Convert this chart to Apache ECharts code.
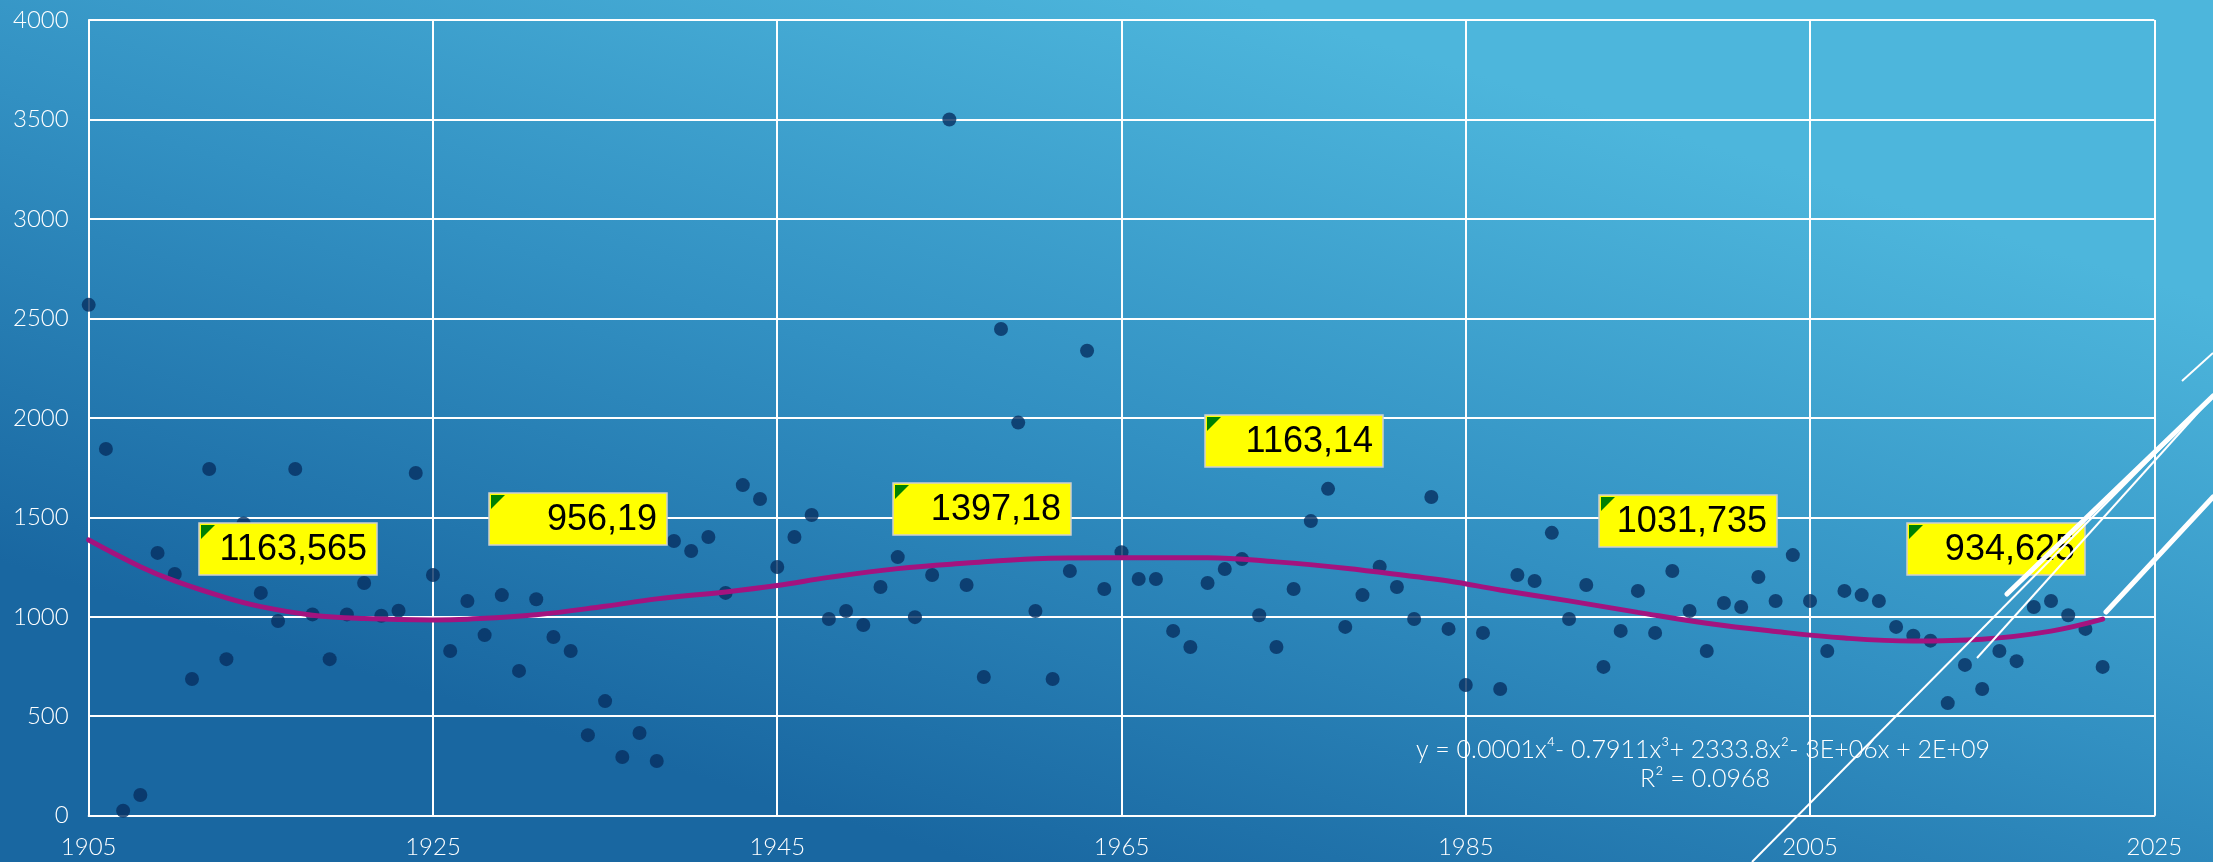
<!DOCTYPE html>
<html><head><meta charset="utf-8">
<script src="https://cdn.jsdelivr.net/npm/echarts@6/dist/echarts.min.js"></script>
<style>html,body{margin:0;padding:0;overflow:hidden}#c{width:2213px;height:862px}</style>
</head><body><div id="c"></div>
<script>
const BASE_YEAR = 1905;
const years = [1905,1906,1907,1908,1909,1910,1911,1912,1913,1914,1915,1916,1917,1918,1919,1920,1921,1922,1923,1924,
1925,1926,1927,1928,1929,1930,1931,1932,1933,1934,1935,1936,1937,1938,1939,1940,1941,1942,1943,1944,
1945,1946,1947,1948,1949,1950,1951,1952,1953,1954,1955,1956,1957,1958,1959,1960,1961,1962,1963,1964,
1965,1966,1967,1968,1969,1970,1971,1972,1973,1974,1975,1976,1977,1978,1979,1980,1981,1982,1983,1984,
1985,1986,1987,1988,1989,1990,1991,1992,1993,1994,1995,1996,1997,1998,1999,2000,2001,2002,2003,2004,
2005,2006,2007,2008,2009,2010,2011,2012,2013,2014,2015,2016,2017,2018,2019,2020,2021,2022];
const values = [2568,1844,25,104,1321,1215,687,1743,787,1469,1120,979,1743,1012,787,1012,1170,1005,1030,1723,
1210,828,1079,908,1109,728,1088,898,828,405,576,295,416,275,1381,1331,1401,1120,1662,1592,
1250,1401,1512,989,1029,959,1150,1300,998,1210,3500,1160,697,2447,1976,1029,687,1230,2337,1140,
1324,1190,1190,929,848,1170,1240,1290,1008,848,1140,1481,1643,949,1109,1252,1150,989,1602,939,
657,919,637,1210,1180,1422,989,1160,748,929,1130,919,1230,1029,828,1069,1049,1200,1079,1310,
1079,828,1130,1109,1079,949,905,880,566,758,637,828,777,1049,1079,1008,939,748];
// trend line (polynomial, order 4)
const trendYears = [1905,1908,1910,1913,1915,1918,1921,1925,1927,1931,1935,1938,1942,1945,1948,1952,1956,1960,1964,1970,1974,1978,1982,1984,1987,1991,1995,1999,2003,2007,2011,2015,2019,2022];
const trendValues = [1386,1252,1180,1095,1051,1008,991,984,988,1010,1053,1090,1125,1157,1198,1242,1270,1292,1297,1297,1276,1244,1202,1180,1135,1080,1022,967,926,893,878,887,928,988];
// period-average annotations
const noteTexts = ['1163,565','956,19','1397,18','1163,14','1031,735','934,625'];
const noteYears = [1916.6,1933.4,1956.9,1975.0,1997.9,2015.8];
const noteValues = [1340,1491,1542,1884,1480,1339];
const xTicks = [1905,1925,1945,1965,1985,2005,2025];
const equationText = 'y = 0.0001x\u2074- 0.7911x\u00b3+ 2333.8x\u00b2- 3E+06x + 2E+09';
const r2Text = 'R\u00b2 = 0.0968';

const chart = echarts.init(document.getElementById('c'), null, {renderer:'canvas'});
const FONT = 'Lato';
const option = {
  backgroundColor: {type:'linear', x:0.56, y:0, x2:0.44, y2:1,
    colorStops:[{offset:0,color:'#4db6dc'},{offset:0.5,color:'#3290c2'},{offset:1,color:'#1967a1'}]},
  animation:false,
  grid:{left:88.7, right:58.7, top:20, bottom:46.3, containLabel:false},
  xAxis:{type:'value', min:0, max:xTicks[xTicks.length-1]-BASE_YEAR, interval:20,
    axisLine:{show:true, lineStyle:{color:'#fff', width:2}},
    axisTick:{show:false},
    splitLine:{show:true, lineStyle:{color:'#fff', width:2}},
    axisLabel:{color:'#fff', fontSize:24, fontFamily:FONT, fontWeight:300, margin:20, formatter:v=>String(v+BASE_YEAR)}},
  yAxis:{type:'value', min:0, max:4000, interval:500,
    axisLine:{show:true, lineStyle:{color:'#fff', width:2}},
    axisTick:{show:false},
    splitLine:{show:true, lineStyle:{color:'#fff', width:2}},
    axisLabel:{color:'#fff', fontSize:24, fontFamily:FONT, fontWeight:300, margin:20, formatter:v=>String(v)}},
  series:[
    {type:'scatter', z:2, symbol:'circle', symbolSize:14,
     itemStyle:{color:'#062f62'},
     data: years.map((y,i)=>[y-BASE_YEAR, values[i]])},
    {type:'line', z:3, smooth:0.4, showSymbol:false, symbol:'none',
     lineStyle:{color:'#a3137f', width:5, cap:'round'},
     data: trendYears.map((y,i)=>[y-BASE_YEAR, trendValues[i]])},
    {type:'custom', z:5,
     data: noteYears.map((y,i)=>[y-BASE_YEAR, noteValues[i]]),
     renderItem:function(params, api){
       const p = api.coord([api.value(0), api.value(1)]);
       const w=178, h=52;
       const x=Math.round(p[0]-w/2), y=Math.round(p[1]-h/2);
       return {type:'group', children:[
         {type:'rect', shape:{x:x, y:y, width:w, height:h}, style:{fill:'#ffff00', stroke:'#cfcfcf', lineWidth:1.5}},
         {type:'polygon', shape:{points:[[x+2,y+2],[x+16,y+2],[x+2,y+16]]}, style:{fill:'#008000'}},
         {type:'text', style:{text:noteTexts[params.dataIndex], x:x+w-10, y:y+h/2+1, align:'right', verticalAlign:'middle',
           font:'36px "Liberation Sans", Arial, sans-serif', fill:'#000'}}
       ]};
     }}
  ],
  graphic:[
    {type:'text', x:1703, y:750, z:10, style:{text:equationText, align:'center', verticalAlign:'middle', font:'300 25px '+FONT, fill:'#fff'}},
    {type:'text', x:1705, y:779, z:10, style:{text:r2Text, align:'center', verticalAlign:'middle', font:'300 25px '+FONT, fill:'#fff'}},
    {type:'line', z:20, shape:{x1:1752, y1:862, x2:2213, y2:395}, style:{stroke:'#fff', lineWidth:2}},
    {type:'line', z:20, shape:{x1:1977, y1:658, x2:2213, y2:396}, style:{stroke:'#fff', lineWidth:2}},
    {type:'line', z:20, shape:{x1:2007, y1:594, x2:2213, y2:396}, style:{stroke:'#fff', lineWidth:5, lineCap:'round'}},
    {type:'line', z:20, shape:{x1:2106, y1:612, x2:2213, y2:497}, style:{stroke:'#fff', lineWidth:5, lineCap:'round'}},
    {type:'line', z:20, shape:{x1:2182, y1:381, x2:2213, y2:353}, style:{stroke:'#fff', lineWidth:2}}
  ]
};
chart.setOption(option);
</script></body></html>
